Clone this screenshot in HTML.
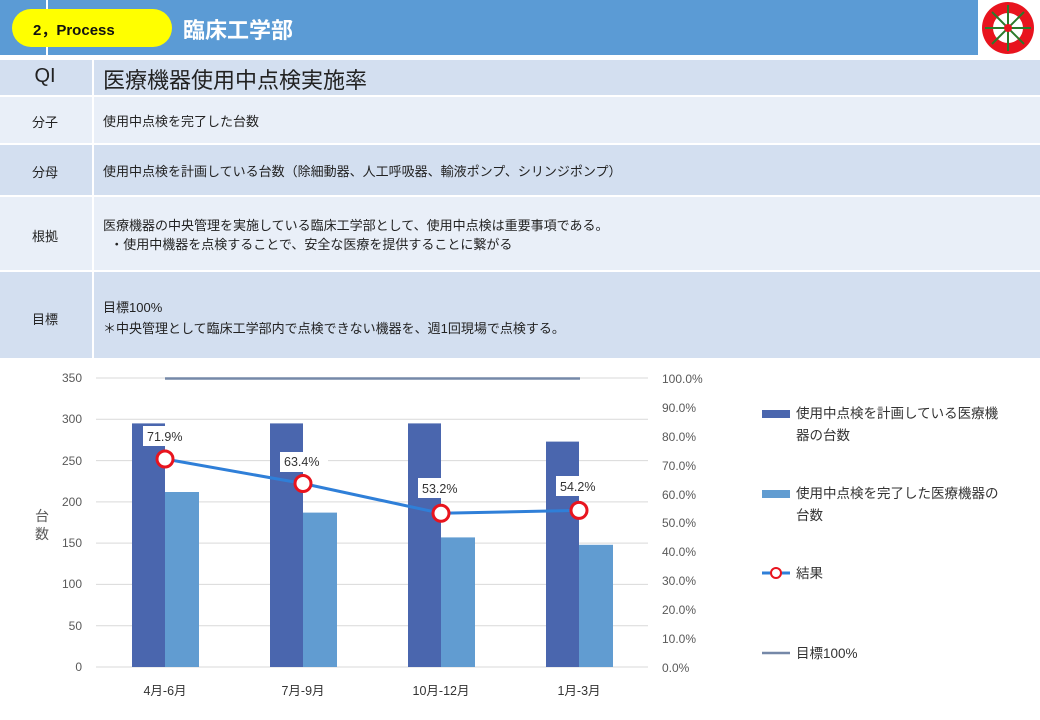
<!DOCTYPE html>
<html><head><meta charset="utf-8"><style>
*{margin:0;padding:0;box-sizing:border-box}
body{width:1040px;height:720px;background:#fff;font-family:"Liberation Sans","Noto Sans CJK JP",sans-serif;position:relative;overflow:hidden;color:#222}
.a{position:absolute}
.row{position:absolute;left:0;width:1040px}
.lab{position:absolute;left:0;width:90px;text-align:center}
.txt{position:absolute;left:103px}
</style></head><body>
<div class="a" style="left:0;top:0;width:978px;height:55px;background:#5b9bd5"></div>
<div class="a" style="left:46px;top:0;width:2px;height:55px;background:#fff"></div>
<div class="a" style="left:12px;top:9px;width:160px;height:38px;background:#ffff00;border-radius:19px"></div>
<div class="a" style="left:33px;top:19px;font-size:15px;font-weight:bold;color:#111">2，Process</div>
<div class="a" style="left:183px;top:13px;font-size:22px;color:#fff;font-weight:bold">臨床工学部</div>
<svg class="a" style="left:979px;top:0" width="58" height="57" viewBox="0 0 58 57">
<circle cx="29" cy="28" r="26" fill="#e8141e"/>
<circle cx="29" cy="28" r="15" fill="#fff"/>
<g stroke="#2a7a2a" stroke-width="2"><line x1="29" y1="5" x2="29" y2="51"/><line x1="6" y1="28" x2="52" y2="28"/><line x1="13" y1="12" x2="45" y2="44"/><line x1="45" y1="12" x2="13" y2="44"/></g>
<circle cx="29" cy="28" r="4" fill="#e8141e"/></svg>
<div class="row" style="top:60px;height:35px;background:#d3dff0"></div>
<div class="row" style="top:97px;height:46px;background:#e9eff8"></div>
<div class="row" style="top:145px;height:50px;background:#d3dff0"></div>
<div class="row" style="top:197px;height:73px;background:#e9eff8"></div>
<div class="row" style="top:272px;height:86px;background:#d3dff0"></div>
<div class="a" style="left:92px;top:60px;width:2px;height:298px;background:#fff"></div>
<div class="lab" style="top:65px;font-size:20px">QI</div>
<div class="a" style="left:103px;top:63px;font-size:22px">医療機器使用中点検実施率</div>
<div class="lab" style="top:112px;font-size:13px">分子</div>
<div class="txt" style="top:111px;font-size:13px">使用中点検を完了した台数</div>
<div class="lab" style="top:162px;font-size:13px">分母</div>
<div class="txt" style="top:161px;font-size:13px">使用中点検を計画している台数（除細動器、人工呼吸器、輸液ポンプ、シリンジポンプ）</div>
<div class="lab" style="top:226px;font-size:13px">根拠</div>
<div class="txt" style="top:216px;font-size:13px;line-height:19px">医療機器の中央管理を実施している臨床工学部として、使用中点検は重要事項である。<br>&nbsp;&nbsp;・使用中機器を点検することで、安全な医療を提供することに繋がる</div>
<div class="lab" style="top:309px;font-size:13px">目標</div>
<div class="txt" style="top:297px;font-size:13px;line-height:21px">目標100%<br>＊中央管理として臨床工学部内で点検できない機器を、週1回現場で点検する。</div>
<svg class="a" style="left:0;top:360px" width="1040" height="360" font-family="Liberation Sans,Noto Sans CJK JP,sans-serif" font-size="12" fill="#595959">
<g stroke="#d9d9d9" stroke-width="1">
<line x1="96" x2="648" y1="18" y2="18"/><line x1="96" x2="648" y1="59.3" y2="59.3"/><line x1="96" x2="648" y1="100.6" y2="100.6"/><line x1="96" x2="648" y1="141.9" y2="141.9"/><line x1="96" x2="648" y1="183.1" y2="183.1"/><line x1="96" x2="648" y1="224.4" y2="224.4"/><line x1="96" x2="648" y1="265.7" y2="265.7"/><line x1="96" x2="648" y1="307" y2="307"/></g>
<g text-anchor="end"><text x="82" y="22">350</text><text x="82" y="63">300</text><text x="82" y="105">250</text><text x="82" y="146">200</text><text x="82" y="187">150</text><text x="82" y="228">100</text><text x="82" y="270">50</text><text x="82" y="311">0</text></g>
<g><text x="662" y="23">100.0%</text><text x="662" y="52">90.0%</text><text x="662" y="81">80.0%</text><text x="662" y="110">70.0%</text><text x="662" y="139">60.0%</text><text x="662" y="167">50.0%</text><text x="662" y="196">40.0%</text><text x="662" y="225">30.0%</text><text x="662" y="254">20.0%</text><text x="662" y="283">10.0%</text><text x="662" y="312">0.0%</text></g>
<text x="35" y="161" font-size="14">台</text><text x="35" y="179" font-size="14">数</text>
<g fill="#4a66ae"><rect x="132" y="63.4" width="33" height="243.6"/><rect x="270" y="63.4" width="33" height="243.6"/><rect x="408" y="63.4" width="33" height="243.6"/><rect x="546" y="81.6" width="33" height="225.4"/></g>
<g fill="#619cd1"><rect x="165" y="132" width="34" height="175"/><rect x="303" y="152.6" width="34" height="154.4"/><rect x="441" y="177.4" width="34" height="129.6"/><rect x="579" y="184.8" width="34" height="122.2"/></g>
<line x1="165" x2="580" y1="18.5" y2="18.5" stroke="#7588a8" stroke-width="2.5"/>
<polyline points="165,99 303,123.5 441,153.3 579,150.4" fill="none" stroke="#2f7fd8" stroke-width="3"/>
<g fill="#fff"><rect x="143" y="66" width="48" height="20"/><rect x="280" y="92" width="48" height="20"/><rect x="418" y="118" width="48" height="20"/><rect x="556" y="116" width="48" height="20"/></g>
<g fill="#333" font-size="12.5"><text x="147" y="81">71.9%</text><text x="284" y="106">63.4%</text><text x="422" y="133">53.2%</text><text x="560" y="131">54.2%</text></g>
<g fill="#fff" stroke="#e8141e" stroke-width="3"><circle cx="165" cy="99" r="8"/><circle cx="303" cy="123.5" r="8"/><circle cx="441" cy="153.3" r="8"/><circle cx="579" cy="150.4" r="8"/></g>
<g fill="#333" text-anchor="middle" font-size="12.5"><text x="165" y="335">4月-6月</text><text x="303" y="335">7月-9月</text><text x="441" y="335">10月-12月</text><text x="579" y="335">1月-3月</text></g>
<rect x="762" y="50" width="28" height="8" fill="#4a66ae"/>
<text x="796" y="58" font-size="13.5" fill="#333">使用中点検を計画している医療機</text><text x="796" y="80" font-size="13.5" fill="#333">器の台数</text>
<rect x="762" y="130" width="28" height="8" fill="#619cd1"/>
<text x="796" y="138" font-size="13.5" fill="#333">使用中点検を完了した医療機器の</text><text x="796" y="160" font-size="13.5" fill="#333">台数</text>
<line x1="762" x2="790" y1="213" y2="213" stroke="#2f7fd8" stroke-width="3"/><circle cx="776" cy="213" r="5" fill="#fff" stroke="#e8141e" stroke-width="2"/>
<text x="796" y="218" font-size="13.5" fill="#333">結果</text>
<line x1="762" x2="790" y1="293" y2="293" stroke="#7588a8" stroke-width="2.5"/>
<text x="796" y="298" font-size="13.5" fill="#333">目標100%</text>
</svg>
</body></html>
